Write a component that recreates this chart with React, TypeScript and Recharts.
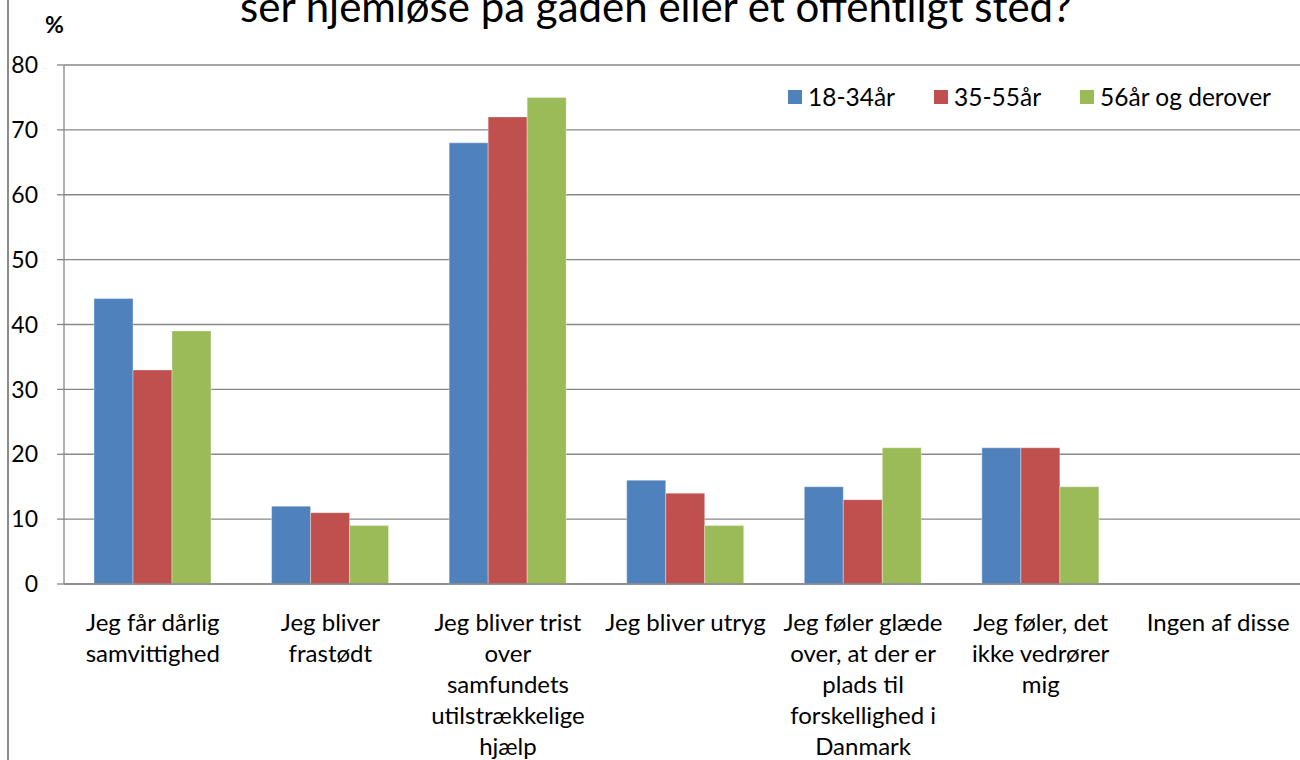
import { Bar, BarChart, CartesianGrid, XAxis, YAxis } from "recharts";

const categories = [
  "Jeg får dårlig\nsamvittighed",
  "Jeg bliver\nfrastødt",
  "Jeg bliver trist\nover\nsamfundets\nutilstrækkelige\nhjælp",
  "Jeg bliver utryg",
  "Jeg føler glæde\nover, at der er\nplads til\nforskellighed i\nDanmark",
  "Jeg føler, det\nikke vedrører\nmig",
  "Ingen af disse",
];

const young = [44, 12, 68, 16, 15, 21, 0];
const middle = [33, 11, 72, 14, 13, 21, 0];
const senior = [39, 9, 75, 9, 21, 15, 0];

const seriesNames = ["18-34år", "35-55år", "56år og derover"];
const seriesColors = ["#4F81BD", "#C0504D", "#9BBB59"];
const yTicks = [0, 10, 20, 30, 40, 50, 60, 70, 80];
const edgeTicks = [0, 1, 2, 3, 4, 5, 6, 7];

const data = categories.map((name, i) => ({
  name,
  young: young[i],
  middle: middle[i],
  senior: senior[i],
}));

const FONT = "Lato, 'Open Sans', sans-serif";
const GRID = "#878787";

function CategoryTick(props: any) {
  const { x, y, payload } = props;
  const lines = String(payload.value).split("\n");
  return (
    <text x={x} y={y + 47} textAnchor="middle" fontFamily={FONT} fontSize={24} fill="#000">
      {lines.map((line, i) => (
        <tspan key={i} x={x} dy={i === 0 ? 0 : 31}>
          {line}
        </tspan>
      ))}
    </text>
  );
}

export default function App() {
  const keys = ["young", "middle", "senior"];
  return (
    <div
      style={{
        position: "absolute",
        left: 0,
        top: 0,
        width: 1300,
        height: 760,
        overflow: "hidden",
        background: "#fff",
        fontFamily: FONT,
      }}
    >
      {/* plot runs a few px past the right edge, like the cropped original */}
      <BarChart
        width={1307}
        height={760}
        data={data}
        margin={{ top: 65, right: 0, bottom: 0, left: 0 }}
        barCategoryGap="16.9%"
        barGap={0}
      >
        <CartesianGrid stroke={GRID} strokeWidth={1.3} vertical={false} />
        <XAxis
          xAxisId="edges"
          type="number"
          domain={[0, 7]}
          ticks={edgeTicks}
          height={0}
          tick={false}
          tickSize={7}
          tickLine={{ stroke: GRID, strokeWidth: 1.3 }}
          axisLine={false}
        />
        <XAxis
          dataKey="name"
          height={176}
          interval={0}
          tickLine={false}
          tickSize={0}
          tickMargin={0}
          axisLine={{ stroke: GRID, strokeWidth: 1.3 }}
          tick={<CategoryTick />}
        />
        <YAxis
          width={64}
          domain={[0, 80]}
          ticks={yTicks}
          interval={0}
          tickSize={7}
          tickMargin={19}
          tickLine={{ stroke: GRID, strokeWidth: 1.3 }}
          axisLine={{ stroke: GRID, strokeWidth: 1.3 }}
          tick={{ fill: "#000", fontSize: 23, fontFamily: FONT }}
        />
        {keys.map((k, i) => (
          <Bar
            key={k}
            dataKey={k}
            name={seriesNames[i]}
            fill={seriesColors[i]}
            stroke="#ffffff"
            strokeOpacity={0.35}
            strokeWidth={1}
            isAnimationActive={false}
          />
        ))}
      </BarChart>

      <div style={{ position: "absolute", left: 7, top: 0, width: 2, height: 760, background: "#8c8c8c" }} />

      <div
        style={{
          position: "absolute",
          left: 0,
          width: 1312,
          top: -18,
          textAlign: "center",
          fontSize: 42,
          lineHeight: "48px",
          color: "#000",
          whiteSpace: "nowrap",
        }}
      >
        ser hjemløse på gaden eller et offentligt sted?
      </div>

      <div style={{ position: "absolute", left: 45, top: 10, fontSize: 23, fontWeight: 700, color: "#000" }}>%</div>

      <div
        style={{
          position: "absolute",
          left: 788,
          top: 82,
          display: "flex",
          alignItems: "center",
          fontSize: 24.5,
          color: "#000",
          whiteSpace: "nowrap",
        }}
      >
        {seriesNames.map((n, i) => (
          <div key={n} style={{ display: "flex", alignItems: "center", marginRight: i < 2 ? 39 : 0 }}>
            <span style={{ width: 14, height: 14, background: seriesColors[i], marginRight: 6, display: "inline-block" }} />
            <span>{n}</span>
          </div>
        ))}
      </div>
    </div>
  );
}
